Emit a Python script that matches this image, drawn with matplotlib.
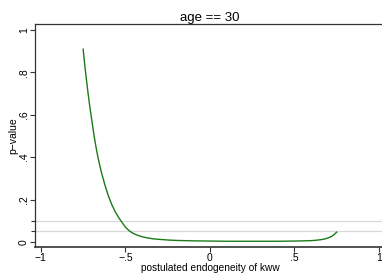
import matplotlib
matplotlib.use("Agg")
import matplotlib.pyplot as plt

x_vals = [-0.75, -0.74, -0.73, -0.72, -0.71, -0.70, -0.69, -0.68, -0.67, -0.66, -0.65,
          -0.64, -0.62, -0.60, -0.58, -0.56, -0.54, -0.52, -0.50, -0.48, -0.46, -0.44,
          -0.42, -0.40, -0.37, -0.34, -0.30, -0.25, -0.20, -0.10, 0.0, 0.1, 0.2, 0.3,
          0.4, 0.5, 0.55, 0.6, 0.63, 0.66, 0.68, 0.70, 0.72, 0.735, 0.75]
p_vals = [0.909, 0.83, 0.76, 0.695, 0.635, 0.58, 0.525, 0.475, 0.43, 0.39, 0.355,
          0.322, 0.265, 0.215, 0.175, 0.142, 0.115, 0.092, 0.070, 0.054, 0.043, 0.035,
          0.029, 0.024, 0.019, 0.015, 0.012, 0.009, 0.007, 0.005, 0.004, 0.003, 0.003, 0.003,
          0.003, 0.004, 0.005, 0.006, 0.008, 0.011, 0.014, 0.019, 0.026, 0.035, 0.046]
ref_lines = [0.1, 0.05]
x_ticks = [-1, -0.5, 0, 0.5, 1]
x_labels = ["\u22121", "\u2212.5", "0", ".5", "1"]
y_ticks = [0, 0.2, 0.4, 0.6, 0.8, 1]
y_labels = ["0", ".2", ".4", ".6", ".8", "1"]

plt.rcParams['font.family'] = ['Liberation Sans', 'DejaVu Sans']
fig = plt.figure(figsize=(3.82, 2.73), dpi=100)
ax = fig.add_axes([35/382, 26/273, 350/382, 223/273])

for r in ref_lines:
    ax.axhline(r, color='#d8d8d8', lw=0.9, zorder=1)
ax.plot(x_vals, p_vals, color='#1a7a1a', lw=1.0, zorder=2, solid_joinstyle='round')

ax.set_xlim(-1.035, 1.036)
ax.set_ylim(-0.024, 1.028)
ax.set_xticks(x_ticks)
ax.set_xticklabels(x_labels, fontsize=7.5)
ax.set_yticks(y_ticks)
ax.set_yticklabels(y_labels, fontsize=7.5, rotation=90, va='center')
ax.set_yticks(ref_lines, minor=True)
ax.tick_params(axis='y', which='minor', length=3, width=0.8, color='#333333')
ax.tick_params(axis='both', which='major', length=3.5, width=0.8, color='#333333', pad=1)
ax.spines['right'].set_visible(False)
for s in ['left', 'bottom', 'top']:
    ax.spines[s].set_color('#333333')
ax.spines['bottom'].set_linewidth(1.2)
ax.spines['left'].set_linewidth(0.9)
ax.spines['top'].set_linewidth(0.9)

ax.set_xlabel("postulated endogeneity of kww", fontsize=7.3, labelpad=-0.5)
ax.set_ylabel("p\u2212value", fontsize=7.5, labelpad=0)
ax.set_title("age == 30", fontsize=9.5, pad=2)

fig.savefig("out.png", dpi=100)
